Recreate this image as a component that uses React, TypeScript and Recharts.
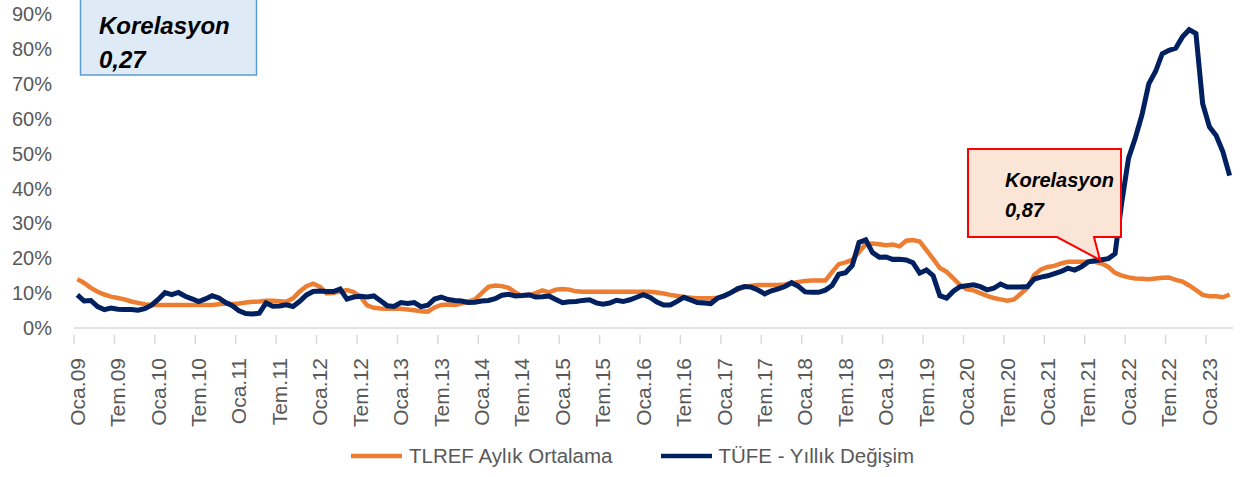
import { LineChart, Line, XAxis, YAxis, Legend } from "recharts";

const MONTHS = ["Oca", "Şub", "Mar", "Nis", "May", "Haz", "Tem", "Ağu", "Eyl", "Eki", "Kas", "Ara"];
const YEARS = ["09", "10", "11", "12", "13", "14", "15", "16", "17", "18", "19", "20", "21", "22", "23"];

// Oca.09 – Nis.23, monthly
const categories = YEARS.flatMap((y) => MONTHS.map((m) => `${m}.${y}`)).slice(0, 172);

const tlref = [
  14.0, 12.9, 11.5, 10.4, 9.6, 9.0, 8.6, 8.2, 7.6, 7.2, 6.8, 6.6,
  6.6, 6.6, 6.6, 6.6, 6.6, 6.6, 6.6, 6.6, 6.6, 6.8, 7.0, 6.9,
  7.0, 7.3, 7.5, 7.6, 7.8, 7.8, 7.7, 7.5, 8.5, 10.5, 12.0, 12.7,
  11.8, 9.9, 10.0, 10.5, 10.9, 10.3, 9.0, 6.5, 5.8, 5.6, 5.5, 5.5,
  5.5, 5.3, 5.1, 4.8, 4.7, 5.9, 6.6, 6.7, 6.6, 7.0, 7.6, 8.2,
  10.0, 11.8, 12.2, 12.0, 11.5, 10.2, 9.2, 9.4, 10.0, 10.8, 10.2, 11.0,
  11.2, 11.0, 10.5, 10.4, 10.4, 10.4, 10.4, 10.4, 10.4, 10.4, 10.4, 10.4,
  10.4, 10.4, 10.2, 9.9, 9.5, 9.2, 8.9, 8.7, 8.5, 8.5, 8.5, 8.7,
  9.2, 10.2, 11.0, 11.8, 12.1, 12.3, 12.3, 12.3, 12.3, 12.5, 12.8, 13.2,
  13.5, 13.6, 13.6, 13.6, 16.0, 18.3, 18.8, 19.5, 21.8, 24.0, 24.2, 24.0,
  23.7, 23.9, 23.4, 25.0, 25.2, 24.8, 22.3, 19.8, 17.2, 16.1, 14.2, 12.3,
  11.1, 10.8, 10.0, 9.2, 8.6, 8.2, 7.8, 8.2, 9.8, 11.5, 15.2, 16.8,
  17.5, 17.8, 18.5, 19.0, 19.0, 19.0, 19.0, 19.0, 18.5, 17.5, 15.8, 15.0,
  14.5, 14.2, 14.1, 14.0, 14.2, 14.4, 14.5, 13.8, 13.3, 12.2, 10.9, 9.5,
  9.1, 9.1, 8.8, 9.6,
];

const tufe = [
  9.5, 7.73, 7.89, 6.13, 5.24, 5.73, 5.39, 5.33, 5.27, 5.08, 5.53, 6.53,
  8.19, 10.13, 9.56, 10.19, 9.1, 8.37, 7.58, 8.33, 9.24, 8.62, 7.29, 6.4,
  4.9, 4.16, 3.99, 4.26, 7.17, 6.24, 6.31, 6.65, 6.15, 7.66, 9.48, 10.45,
  10.61, 10.43, 10.43, 11.14, 8.28, 8.87, 9.07, 8.88, 9.19, 7.8, 6.37, 6.16,
  7.31, 7.03, 7.29, 6.13, 6.51, 8.3, 8.88, 8.17, 7.88, 7.71, 7.32, 7.4,
  7.75, 7.89, 8.39, 9.38, 9.66, 9.16, 9.32, 9.54, 8.86, 8.96, 9.15, 8.17,
  7.24, 7.55, 7.61, 7.91, 8.09, 7.2, 6.81, 7.14, 7.95, 7.58, 8.1, 8.81,
  9.58, 8.78, 7.46, 6.57, 6.58, 7.64, 8.79, 8.05, 7.28, 7.16, 7.0, 8.53,
  9.22, 10.13, 11.29, 11.87, 11.72, 10.9, 9.79, 10.68, 11.2, 11.9, 12.98, 11.92,
  10.35, 10.26, 10.23, 10.85, 12.15, 15.39, 15.85, 17.9, 24.52, 25.24, 21.62, 20.3,
  20.35, 19.67, 19.71, 19.5, 18.71, 15.72, 16.65, 15.01, 9.26, 8.55, 10.56, 11.84,
  12.15, 12.37, 11.86, 10.94, 11.39, 12.62, 11.76, 11.77, 11.75, 11.89, 14.03, 14.6,
  14.97, 15.61, 16.19, 17.14, 16.59, 17.53, 18.95, 19.25, 19.58, 19.89, 21.31, 36.08,
  48.69, 54.44, 61.14, 69.97, 73.5, 78.62, 79.6, 80.21, 83.45, 85.51, 84.39, 64.27,
  57.68, 55.18, 50.51, 43.68,
];

const yTicks = [0, 10, 20, 30, 40, 50, 60, 70, 80, 90];

const data = categories.map((month, i) => ({ month, tlref: tlref[i], tufe: tufe[i] }));

const FONT = '"Liberation Sans", Arial, sans-serif';
const GREY = "#595959";
const ORANGE = "#ED7D31";
const NAVY = "#002060";
const HALF_STEP = 3.37;

function MonthTick({ x, y, payload }: any) {
  return (
    <g>
      <line x1={x - HALF_STEP} x2={x - HALF_STEP} y1={y - 1} y2={y + 8} stroke="#d9d9d9" strokeWidth={1.5} />
      <text
        transform={`translate(${x},${y + 22}) rotate(-90)`}
        textAnchor="end"
        dy="0.35em"
        fontFamily={FONT}
        fontSize={21}
        fill={GREY}
      >
        {payload.value}
      </text>
    </g>
  );
}

function LegendBox() {
  const item = (color: string, label: string) => (
    <div style={{ display: "flex", alignItems: "center" }}>
      <svg width={51} height={10} style={{ marginRight: 7 }}>
        <line x1={0} x2={51} y1={5} y2={5} stroke={color} strokeWidth={4.5} strokeLinecap="round" />
      </svg>
      <span>{label}</span>
    </div>
  );
  return (
    <div
      style={{
        display: "flex",
        justifyContent: "center",
        alignItems: "center",
        gap: 48,
        height: 34,
        paddingLeft: 32,
        fontFamily: FONT,
        fontSize: 20.5,
        color: GREY,
      }}
    >
      {item(ORANGE, "TLREF Aylık Ortalama")}
      {item(NAVY, "TÜFE - Yıllık Değişim")}
    </div>
  );
}

export default function App() {
  return (
    <div style={{ position: "absolute", left: 0, top: 0, width: 1245, height: 477, background: "#fff" }}>
      <LineChart width={1245} height={477} data={data} margin={{ top: 14, right: 12, bottom: 4, left: 0 }}>
        <XAxis
          dataKey="month"
          interval={5}
          height={111}
          padding={{ left: HALF_STEP, right: HALF_STEP }}
          axisLine={{ stroke: "#d9d9d9", strokeWidth: 1.5 }}
          tickLine={false}
          tick={<MonthTick />}
        />
        <YAxis
          domain={[0, 90]}
          ticks={yTicks}
          width={74}
          axisLine={false}
          tickLine={false}
          tickSize={0}
          tickMargin={22}
          tickFormatter={(v) => `${v}%`}
          tick={{ fontFamily: FONT, fontSize: 20, fill: GREY }}
        />
        <Legend verticalAlign="bottom" content={<LegendBox />} />
        <Line
          dataKey="tlref"
          name="TLREF Aylık Ortalama"
          stroke={ORANGE}
          strokeWidth={4.5}
          dot={false}
          isAnimationActive={false}
        />
        <Line
          dataKey="tufe"
          name="TÜFE - Yıllık Değişim"
          stroke={NAVY}
          strokeWidth={5}
          dot={false}
          isAnimationActive={false}
        />
      </LineChart>
      <svg width={1245} height={477} style={{ position: "absolute", left: 0, top: 0, pointerEvents: "none" }}>
        <rect x={80.5} y={-10} width={176} height={85} fill="#DEEBF7" stroke="#5B9BD5" strokeWidth={1.5} />
        <text x={99} y={34} fontFamily={FONT} fontSize={24} fontWeight="bold" fontStyle="italic" fill="#000">
          Korelasyon
        </text>
        <text x={99} y={68} fontFamily={FONT} fontSize={24} fontWeight="bold" fontStyle="italic" fill="#000">
          0,27
        </text>
        <path
          d="M968,149 H1121 V237 H1094 L1100,260 L1057,237 H968 Z"
          fill="#FBE5D6"
          stroke="#FF0000"
          strokeWidth={2}
        />
        <text x={1005} y={187} fontFamily={FONT} fontSize={20} fontWeight="bold" fontStyle="italic" fill="#000">
          Korelasyon
        </text>
        <text x={1005} y={217} fontFamily={FONT} fontSize={20} fontWeight="bold" fontStyle="italic" fill="#000">
          0,87
        </text>
      </svg>
    </div>
  );
}
